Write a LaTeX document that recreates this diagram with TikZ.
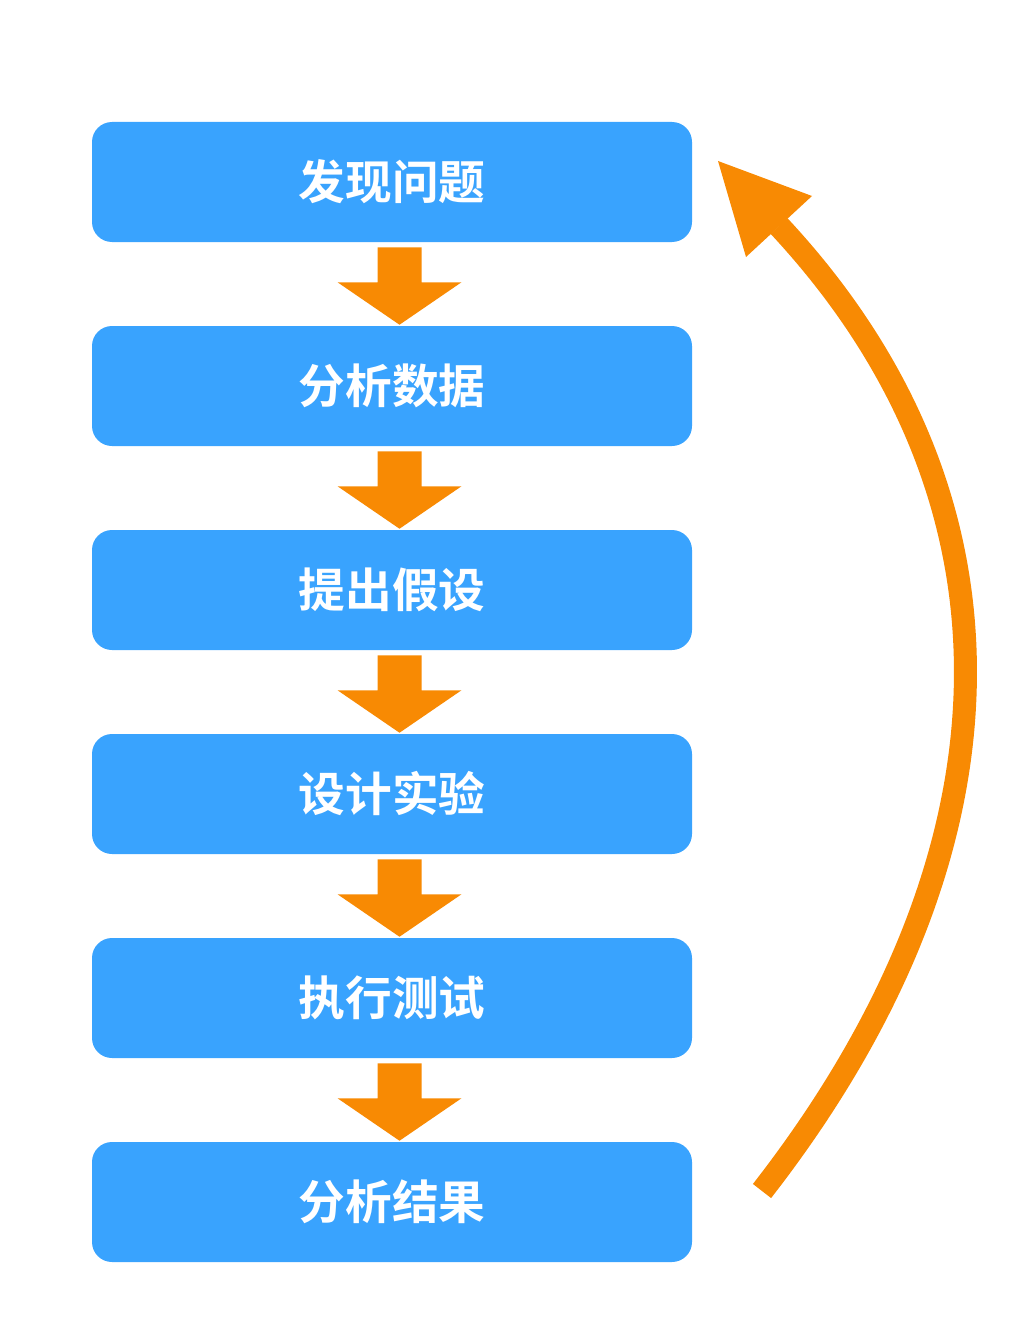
\documentclass[tikz,border=0pt]{standalone}
\usepackage{fontspec}
\newfontfamily\cjk{Noto Sans CJK SC}[BoldFont={Noto Sans CJK SC Bold}]
\usetikzlibrary{calc}
\definecolor{boxblue}{HTML}{39A3FE}
\definecolor{arrorange}{HTML}{F88A03}
\tikzset{
  stepbox/.style={fill=boxblue, draw=none, rounded corners=15pt, minimum width=450pt, minimum height=90pt, inner sep=0pt, text=white, font=\cjk\bfseries\fontsize{35pt}{40pt}\selectfont},
  arrfill/.style={fill=arrorange, draw=none},
}
\newcommand{\blockarrow}[2]{%
  \path ($(#1.south)+(7.5,5)$) coordinate (T);
  \fill[arrfill] ($(T)+(-22,0)$) -- ++(44,0) -- ++(0,35) -- ++(40,0) -- ($(#2.north)+(7.5,-1)$) -- ($(T)+(-62,35)$) -- ++(40,0) -- cycle;}
\begin{document}
\begin{tikzpicture}[x=0.75pt, y=-0.75pt]
\useasboundingbox (0,0) rectangle (1026,1334);
\node[stepbox] (b1) at (392,182) {发现问题};
\node[stepbox] (b2) at (392,386) {分析数据};
\node[stepbox] (b3) at (392,590) {提出假设};
\node[stepbox] (b4) at (392,794) {设计实验};
\node[stepbox] (b5) at (392,998) {执行测试};
\node[stepbox] (b6) at (392,1202) {分析结果};
\blockarrow{b1}{b2}
\blockarrow{b2}{b3}
\blockarrow{b3}{b4}
\blockarrow{b4}{b5}
\blockarrow{b5}{b6}
\coordinate (cs) at (762,1191);
\coordinate (ce) at (779,226);
\coordinate (tip) at (718,161);
\draw[arrorange, line width=17.25pt, line cap=butt] (cs) .. controls (1027.2,850.2) and (1033.4,499) .. (ce);
\fill[arrfill] (tip) -- (812,196) -- (746,257) -- cycle;
\end{tikzpicture}
\end{document}
